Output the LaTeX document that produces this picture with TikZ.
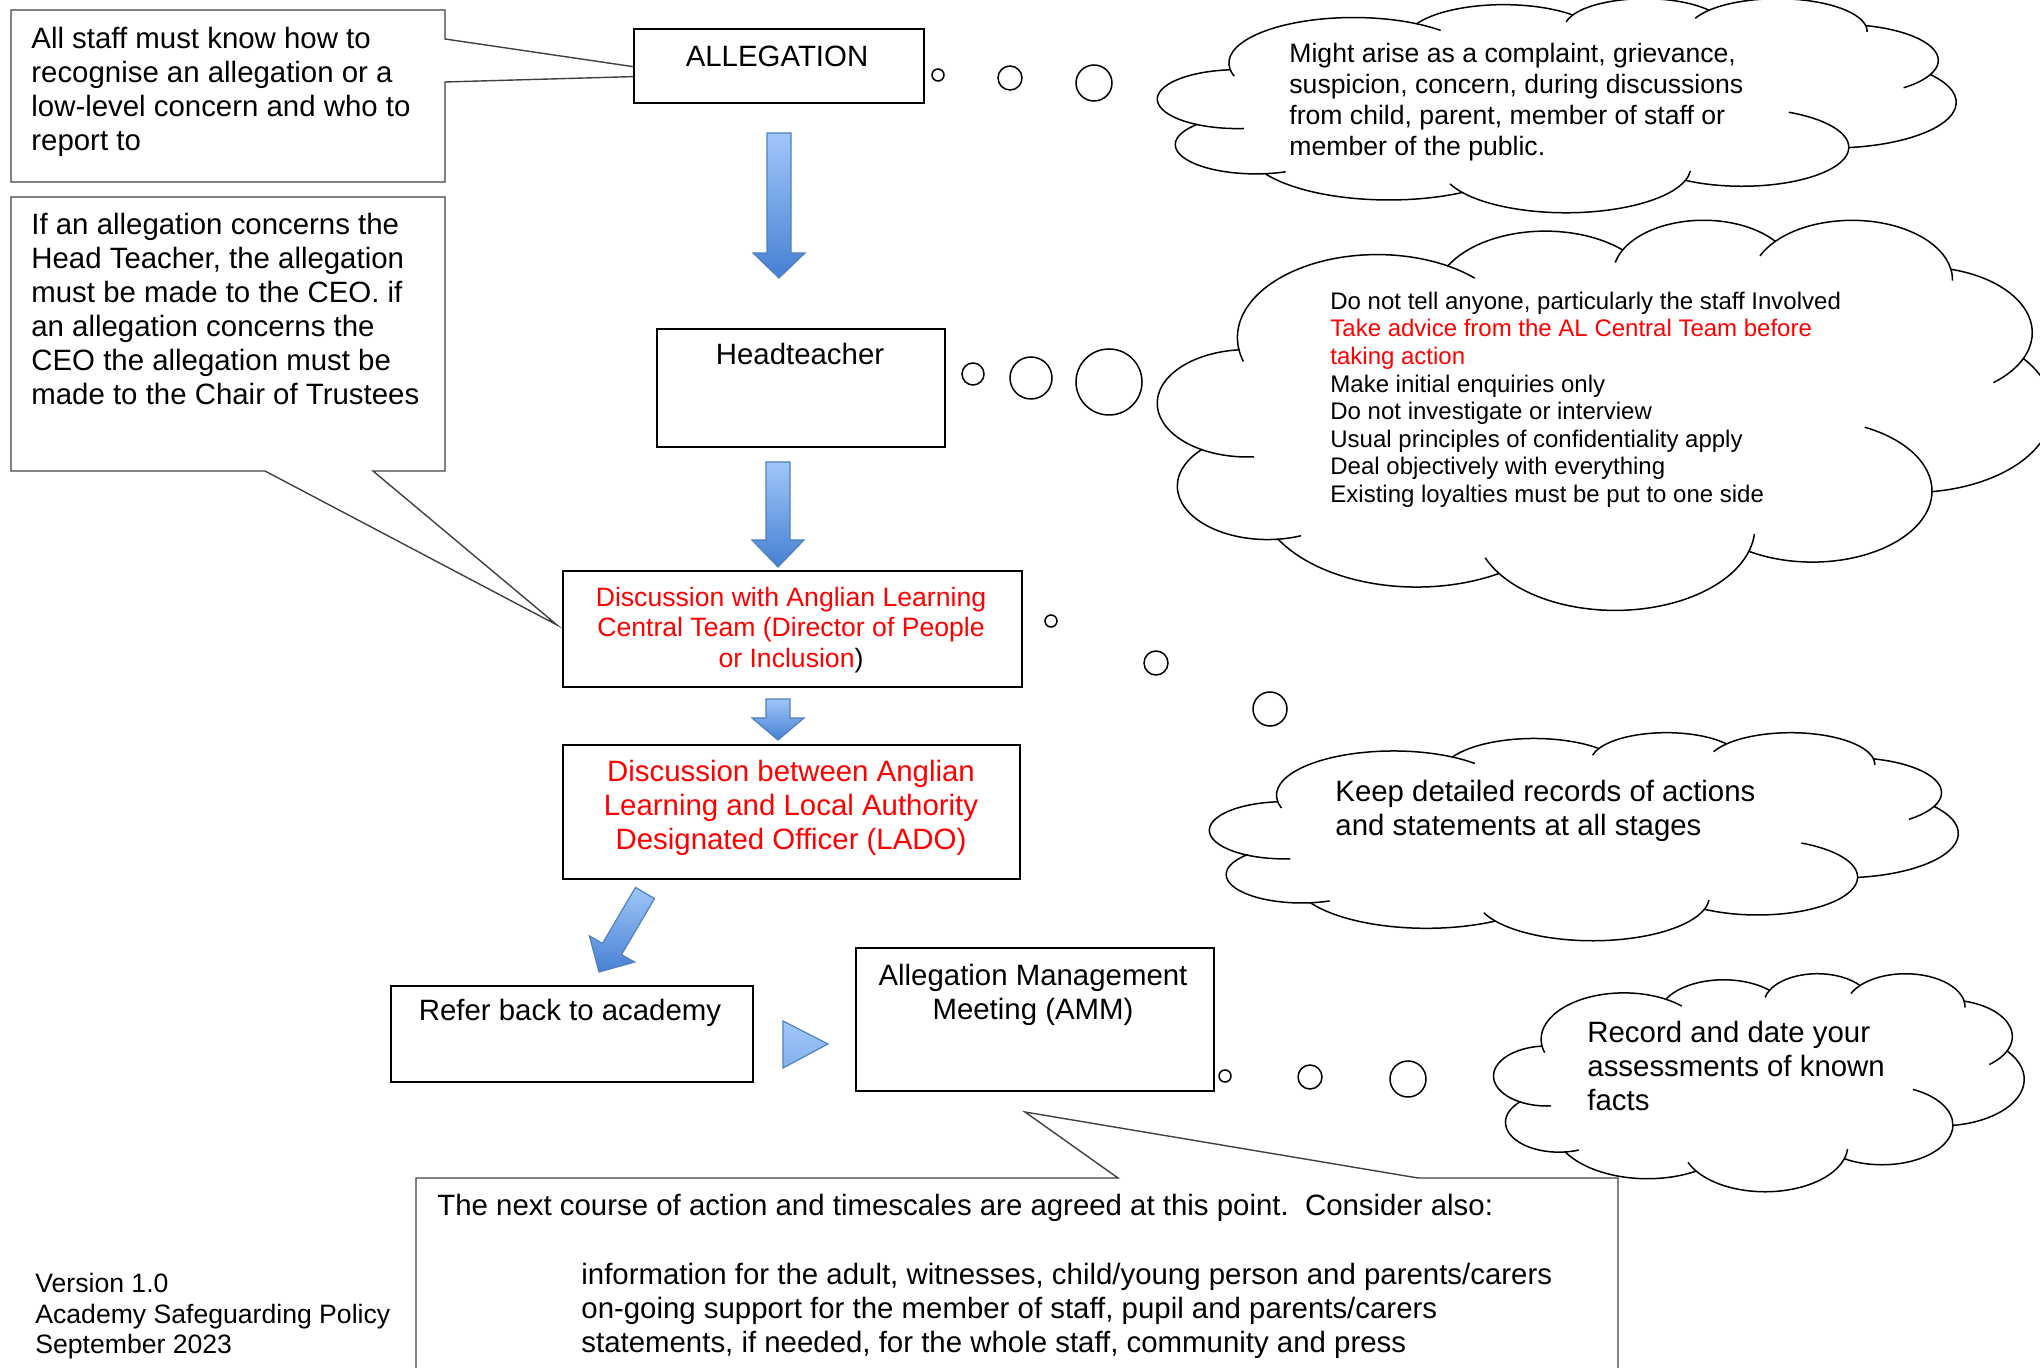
\documentclass[tikz,border=0pt]{standalone}
\usepackage{fontspec}
\setmainfont{Liberation Sans}

\definecolor{arrowtop}{RGB}{160,198,250}
\definecolor{arrowbottom}{RGB}{70,128,210}
\definecolor{arrowedge}{RGB}{79,129,189}
\definecolor{calloutline}{RGB}{64,64,64}

\tikzset{
	flowbox/.style={draw=black, line width=1pt, fill=white, inner sep=0pt, anchor=north west},
	callout/.style={draw=calloutline, line width=0.7pt, fill=white},
	cloudline/.style={draw=black, line width=0.75pt},
	bubble/.style={circle, draw=black, line width=0.75pt, inner sep=0pt},
	blockarrow/.style={draw=arrowedge, line width=0.6pt, top color=arrowtop, bottom color=arrowbottom},
	bigtext/.style={font=\fontsize{14.7}{17}\selectfont, inner sep=0pt},
	midtext/.style={font=\fontsize{13.3}{15.4}\selectfont, inner sep=0pt},
	smalltext/.style={font=\fontsize{12}{13.8}\selectfont, inner sep=0pt},
	%thought cloud on a 432 x 432 grid, y pointing down
	pics/wordcloud/.style={code={
		\draw[cloudline] (39,143.7)
			arc[start angle=172.25, end angle=300.36, x radius=67.53, y radius=91.9]
			arc[start angle=-152.02, end angle=-45.45, x radius=53.33, y radius=72.67]
			arc[start angle=-153.49, end angle=-37.35, x radius=43.65, y radius=59.45]
			arc[start angle=-139.72, end angle=-10.22, x radius=48.57, y radius=65.95]
			arc[start angle=-74.77, end angle=23.21, x radius=53.33, y radius=72.73]
			arc[start angle=-37.53, end angle=81.87, x radius=67.75, y radius=92.2]
			arc[start angle=0.46, end angle=121.98, x radius=57.85, y radius=78.67]
			arc[start angle=16.85, end angle=146.22, x radius=67.52, y radius=92.15]
			arc[start angle=58.98, end angle=150.2, x radius=77.2, y radius=105.43]
			arc[start angle=83.3, end angle=223.12, x radius=43.6, y radius=59.18]
			arc[start angle=120.35, end angle=264.11, x radius=43.45, y radius=59.45] -- cycle;
		%inner strokes between the puffs
		\foreach \cx/\cy/\rx/\ry/\ta/\tb in {43.07/204.15/43.45/59.45/85.54/120.35, 52.93/295.91/43.6/59.18/68.23/83.3,
				220.91/341.4/67.52/92.15/146.22/158.47, 220.91/341.4/67.52/92.15/4.73/16.85,
				316.17/301.37/57.85/78.67/-64.03/0.46, 369.15/125.89/53.33/72.73/23.21/49.63,
				335.36/67.41/48.57/65.95/-10.22/0.82, 335.36/67.41/48.57/65.95/-156.3/-139.72,
				263.61/60.85/43.65/59.45/-167.72/-153.49, 105.91/131.3/67.53/91.9/-59.64/-45.75,
				105.91/131.3/67.53/91.9/163.19/172.25}
			\draw[cloudline] (\cx,\cy) ++({\rx*cos(\ta)},{\ry*sin(\ta)}) arc[start angle=\ta, end angle=\tb, x radius=\rx, y radius=\ry];
		\coordinate (-centre) at (216,216);
	}}
}

%straight block arrow: centre x, top, start of head, tip
\newcommand{\blockdown}[4]{%
	\path[blockarrow] (#1-12,#2) -- (#1+12,#2) -- (#1+12,#3) -- (#1+26,#3) -- (#1,#4) -- (#1-26,#3) -- (#1-12,#3) -- cycle;}

\begin{document}
\begin{tikzpicture}[x=0.5pt, y=-0.5pt]
		\useasboundingbox (0,0) rectangle (2040,1368);
		
		%tips of the callouts
		\coordinate (staff tip) at (690,75);
		\coordinate (chair tip) at (557,625);
		\coordinate (meeting tip) at (1025,1112);
		
		%callouts
		\draw[callout] (11,10) -- (445,10) -- (445,39) -- (staff tip) -- (445,82) -- (445,182) -- (11,182) -- cycle;
		\draw[callout] (11,197) -- (445,197) -- (445,471) -- (373,471) -- (chair tip) -- (265,471) -- (11,471) -- cycle;
		\draw[callout] (416,1380) -- (416,1178) -- (1118,1178) -- (meeting tip) -- (1418,1178) -- (1618,1178) -- (1618,1380);
		
		\node[bigtext, anchor=north west, align=left] (staff text) at (31,26.5) {All staff must know how to\\recognise an allegation or a\\low-level concern and who to\\report to};
		\node[bigtext, anchor=north west, align=left] (chair text) at (31,212.5) {If an allegation concerns the\\Head Teacher, the allegation\\must be made to the CEO. if\\an allegation concerns the\\CEO the allegation must be\\made to the Chair of Trustees};
		\node[bigtext, anchor=north west, align=left] (meeting text) at (437,1193.5) {The next course of action and timescales are agreed at this point.\ \ Consider also:};
		\node[bigtext, anchor=north west, align=left] (consider text) at (581,1262.5) {information for the adult, witnesses, child/young person and parents/carers\\on-going support for the member of staff, pupil and parents/carers\\statements, if needed, for the whole staff, community and press};
		
		%flow boxes
		\node[flowbox, minimum width=145pt, minimum height=37pt] (allegation) at (633,28) {};
		\node[flowbox, minimum width=144pt, minimum height=59pt] (head) at (656,328) {};
		\node[flowbox, minimum width=229.5pt, minimum height=58pt] (discussion) at (562,570) {};
		\node[flowbox, minimum width=228.5pt, minimum height=67pt] (lado) at (562,744) {};
		\node[flowbox, minimum width=181pt, minimum height=48pt] (refer) at (390,985) {};
		\node[flowbox, minimum width=179pt, minimum height=71.5pt] (amm) at (855,947) {};
		
		\node[bigtext, anchor=base] (allegation text) at (777,67) {ALLEGATION};
		\node[bigtext, anchor=base] (head text) at (800,365) {Headteacher};
		\node[midtext, text=red, align=center] (discussion text) at (791,630) {Discussion with Anglian Learning\\Central Team (Director of People\\or Inclusion\textcolor{black}{)}};
		\node[bigtext, text=red, align=center] (lado text) at (791,808) {Discussion between Anglian\\Learning and Local Authority\\Designated Officer (LADO)};
		\node[bigtext, anchor=base] (refer text) at (570,1020) {Refer back to academy};
		\node[bigtext, anchor=north, align=center] (amm text) at (1033,963.5) {Allegation Management\\Meeting (AMM)};
		
		%block arrows
		\blockdown{779}{133}{253}{278}
		\blockdown{778}{462}{540}{567}
		\blockdown{778}{699}{718}{740}
		\path[blockarrow] (635.5,887.4) -- (654.5,898.6) -- (621.5,954.6) -- (634.6,962.1) -- (599,972) -- (589.4,935.9) -- (602.5,943.4) -- cycle;
		\path[blockarrow, top color=arrowtop, bottom color=arrowtop!70!arrowbottom] (783,1021) -- (828,1044) -- (783,1068) -- cycle;
		
		%thought clouds
		\pic[xscale=1.847, yscale=0.4954] (complaint) at (1158,-2) {wordcloud};
		\pic[xscale=2.0694, yscale=0.9028] (advice) at (1158,219) {wordcloud};
		\pic[xscale=1.7315, yscale=0.4815] (records) at (1210,732) {wordcloud};
		\pic[xscale=1.2269, yscale=0.5046] (assess) at (1494,973) {wordcloud};
		
		\node[midtext, anchor=north west, align=left] (complaint text) at (1289,43) {Might arise as a complaint, grievance,\\suspicion, concern, during discussions\\from child, parent, member of staff or\\member of the public.};
		\node[smalltext, anchor=north west, align=left] (advice text) at (1330,291.5) {Do not tell anyone, particularly the staff Involved\\\textcolor{red}{Take advice from the AL Central Team before}\\\textcolor{red}{taking action}\\Make initial enquiries only\\Do not investigate or interview\\Usual principles of confidentiality apply\\Deal objectively with everything\\Existing loyalties must be put to one side};
		\node[bigtext, anchor=north west, align=left] (records text) at (1335,779.5) {Keep detailed records of actions\\and statements at all stages};
		\node[bigtext, anchor=north west, align=left] (assess text) at (1587,1020.5) {Record and date your\\assessments of known\\facts};
		
		%bubbles
		\foreach \x/\y/\d [count=\i] in {938/75/6, 1010/78/12, 1094/83/18}
			\node[bubble, minimum size=\d pt] (allegation bubble \i) at (\x,\y) {};
		\foreach \x/\y/\d [count=\i] in {973/374/11, 1031/378/21, 1109/382/33}
			\node[bubble, minimum size=\d pt] (head bubble \i) at (\x,\y) {};
		\foreach \x/\y/\d [count=\i] in {1051/621/6, 1156/663/12, 1270/709/17}
			\node[bubble, minimum size=\d pt] (discussion bubble \i) at (\x,\y) {};
		\foreach \x/\y/\d [count=\i] in {1225/1076/6, 1310/1077/12, 1408/1079/18}
			\node[bubble, minimum size=\d pt] (amm bubble \i) at (\x,\y) {};
		
		%footer
		\node[midtext, anchor=north west, align=left] (version text) at (35,1272.6) {Version 1.0\\Academy Safeguarding Policy\\September 2023};
	\end{tikzpicture}
\end{document}
